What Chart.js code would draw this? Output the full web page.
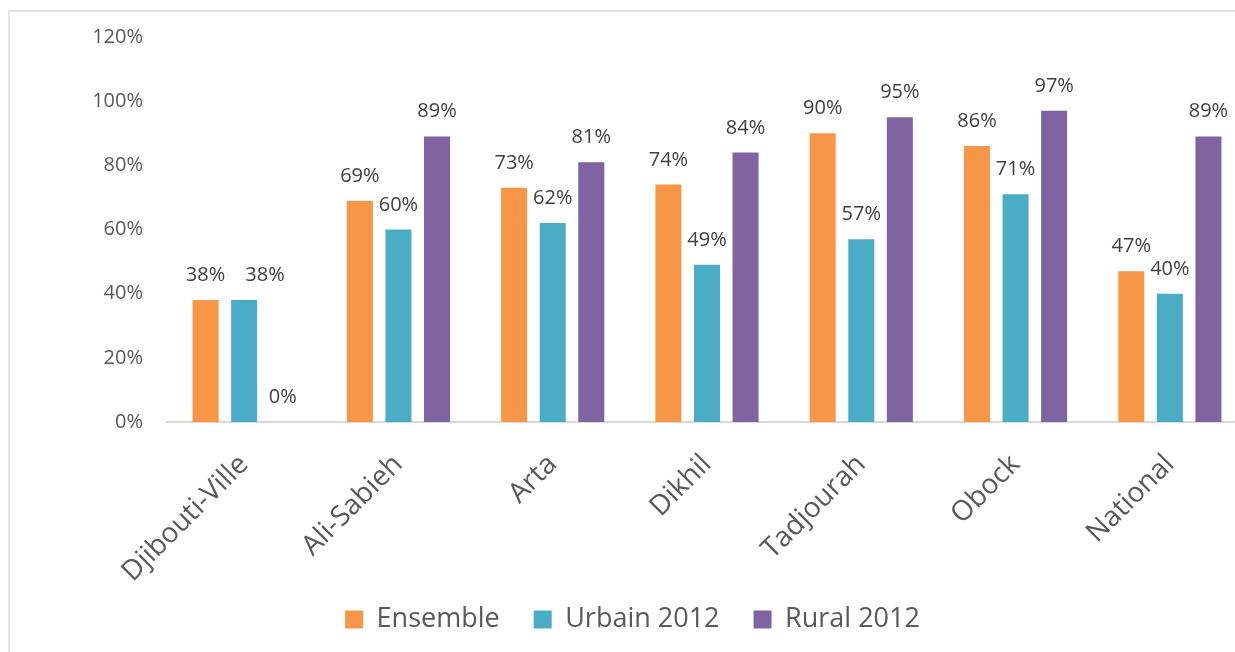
<!DOCTYPE html>
<html>
<head>
<meta charset="utf-8">
<script src="https://cdn.jsdelivr.net/npm/chart.js@4.4.1/dist/chart.umd.min.js"></script>
<style>
  html, body { margin: 0; padding: 0; background: #fff; overflow: hidden; }
  #wrap { position: relative; width: 1250px; height: 652px; }
  #frame { position: absolute; left: 8px; top: 10px; width: 1300px; height: 700px;
           border-top: 2px solid #e3e3e3; border-left: 2px solid #e3e3e3; pointer-events: none; }
</style>
</head>
<body>
<div id="wrap">
  <canvas id="chart"></canvas>
  <div id="frame"></div>
</div>
<script>
// regions and shares (percent)
const regions = ["Djibouti-Ville", "Ali-Sabieh", "Arta", "Dikhil", "Tadjourah", "Obock", "National"];
const ensemble = [38, 69, 73, 74, 90, 86, 47];
const urbain2012 = [38, 60, 62, 49, 57, 71, 40];
const rural2012 = [0, 89, 81, 84, 95, 97, 89];
const yTicks = [0, 20, 40, 60, 80, 100, 120];

const FONT = "'Open Sans', sans-serif";

// value labels above each bar, pushed right when two labels of a group collide
const barLabels = {
    id: "barLabels",
    afterDatasetsDraw(chart) {
        const ctx = chart.ctx;
        ctx.save();
        ctx.font = "20px " + FONT;
        ctx.fillStyle = "#404040";
        ctx.textAlign = "center";
        ctx.textBaseline = "alphabetic";
        const n = chart.data.labels.length;
        for (let j = 0; j < n; j++) {
            let prev = null;
            chart.data.datasets.forEach((ds, i) => {
                const bar = chart.getDatasetMeta(i).data[j];
                const txt = ds.data[j] + "%";
                const w = ctx.measureText(txt).width;
                const y = bar.y - 19;
                let x = bar.x;
                if (prev && Math.abs(prev.y - y) < 22 && x - w / 2 < prev.right + 4) {
                    x = prev.right + 20 + w / 2;
                }
                ctx.fillText(txt, x, y);
                prev = { right: x + w / 2, y: y };
            });
        }
        ctx.restore();
    }
};

// slanted region names under the axis (drawn here so they are not clipped to the axis box)
const regionLabels = {
    id: "regionLabels",
    afterDraw(chart) {
        const ctx = chart.ctx;
        const xs = chart.scales.x;
        ctx.save();
        ctx.font = "28px " + FONT;
        ctx.fillStyle = "#595959";
        ctx.textAlign = "right";
        ctx.textBaseline = "top";
        chart.data.labels.forEach((lab, i) => {
            ctx.save();
            ctx.translate(xs.getPixelForTick(i) - 10, xs.top + 28);
            ctx.rotate(-Math.PI / 4);
            ctx.fillText(lab, 0, 0);
            ctx.restore();
        });
        ctx.restore();
    }
};

const chart = new Chart(document.getElementById("chart"), {
    type: "bar",
    data: {
        labels: regions,
        datasets: [
            { label: "Ensemble", data: ensemble, backgroundColor: "#F79646" },
            { label: "Urbain 2012", data: urbain2012, backgroundColor: "#4BACC6" },
            { label: "Rural 2012", data: rural2012, backgroundColor: "#8064A2" }
        ]
    },
    options: {
        responsive: true,
        maintainAspectRatio: false,
        animation: false,
        layout: { padding: { top: 37, right: 3, bottom: 9, left: 18 } },
        datasets: { bar: { categoryPercentage: 0.75, barPercentage: 0.675 } },
        plugins: {
            tooltip: { enabled: false },
            legend: {
                position: "bottom",
                labels: {
                    color: "#595959",
                    font: { family: FONT, size: 27 },
                    boxWidth: 18,
                    boxHeight: 18,
                    padding: 34
                }
            }
        },
        scales: {
            x: {
                grid: { drawOnChartArea: false, drawTicks: false },
                border: { color: "#d9d9d9", width: 2 },
                ticks: { display: false },
                afterFit: s => { s.height = 150; }
            },
            y: {
                min: 0,
                max: 120,
                grid: { display: false },
                border: { display: false },
                afterBuildTicks: s => { s.ticks = yTicks.map(v => ({ value: v })); },
                ticks: {
                    color: "#595959",
                    font: { family: FONT, size: 20 },
                    padding: 16,
                    callback: v => v + "%"
                },
                afterFit: s => { s.width = 149; }
            }
        }
    },
    plugins: [barLabels, regionLabels]
});
</script>
</body>
</html>
